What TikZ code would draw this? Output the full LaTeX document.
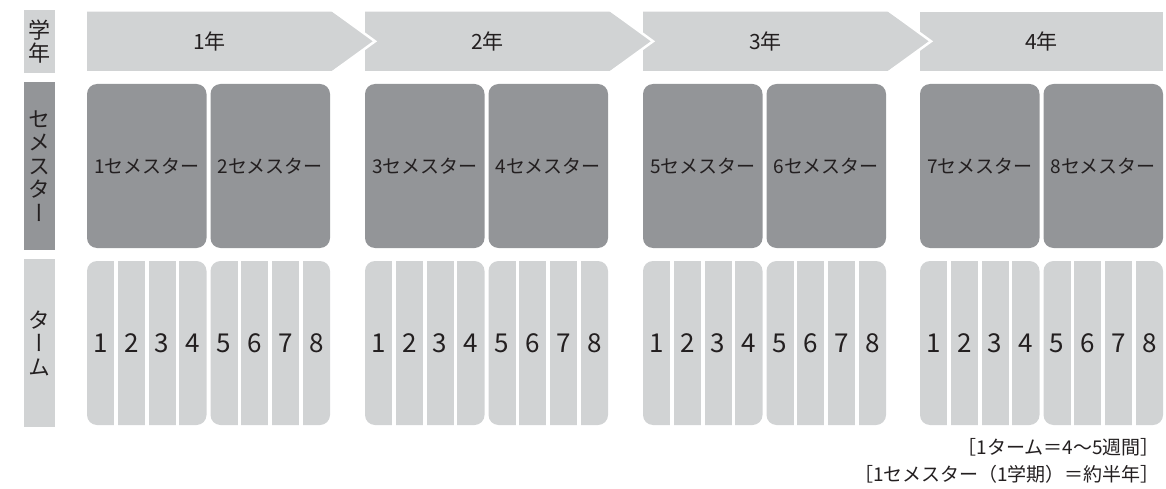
\documentclass[tikz,border=0pt]{standalone}
\usepackage{fontspec}
\setmainfont{Noto Sans CJK JP}
\newfontfamily\vertjp[RawFeature=+vert]{Noto Sans CJK JP}
\usetikzlibrary{positioning}
\definecolor{termgray}{HTML}{D1D3D4}
\definecolor{semgray}{HTML}{939598}
\definecolor{inkdark}{HTML}{231F20}
\newcommand{\jpsize}[1]{\fontsize{#1}{#1}\selectfont}

\begin{document}
\begin{tikzpicture}[
  x=1pt, y=-1pt,
  every node/.style={text=inkdark, inner sep=0pt},
  rowlabel/.style={minimum width=31pt, align=center, font=\vertjp\fontsize{22}{23.5}\selectfont},
  semester/.style={fill=semgray, rounded corners=10pt, minimum width=119.5pt, minimum height=164pt, font=\jpsize{19}},
  yearlabel/.style={font=\jpsize{21}},
  termnum/.style={font=\jpsize{26}},
]
\useasboundingbox (0,0) rectangle (1166,489);

% Row labels — left column
\node[rowlabel, fill=termgray, minimum height=63pt] (lblyear) at (39.5, 41.5) {学\\年};
\node[rowlabel, fill=semgray, minimum height=168pt] (lblsem) at (39.5, 166) {セ\\メ\\ス\\タ\\ー};
\node[rowlabel, fill=termgray, minimum height=168pt] (lblterm) at (39.5, 343) {タ\\ー\\ム};

% Year arrows — drawn last to first so each tip lies over the next one
\fill[termgray] (920, 11.7) rectangle (1163, 71);
\foreach \s in {643, 365, 87} {
  \fill[termgray] (\s, 11.7) -- (\s+245, 11.7) -- (\s+288, 41.3) -- (\s+245, 71) -- (\s, 71) -- cycle;
  \draw[white, line width=2.5pt, line join=miter] (\s+245, 10) -- (\s+288, 41.3) -- (\s+245, 72.5);
}
\node[yearlabel] (year1) at (209.5, 41.5) {1年};
\node[yearlabel] (year2) at (487.5, 41.5) {2年};
\node[yearlabel] (year3) at (765.5, 41.5) {3年};
\node[yearlabel] (year4) at (1041.5, 41.5) {4年};

% Semesters — two boxes per year
\node[semester] (sem1) at (146.75, 166) {1セメスター};
\node[semester] (sem2) at (270.25, 166) {2セメスター};
\node[semester] (sem3) at (424.75, 166) {3セメスター};
\node[semester] (sem4) at (548.25, 166) {4セメスター};
\node[semester] (sem5) at (702.75, 166) {5セメスター};
\node[semester] (sem6) at (826.25, 166) {6セメスター};
\node[semester] (sem7) at (979.75, 166) {7セメスター};
\node[semester] (sem8) at (1103.25, 166) {8セメスター};

% Terms — rounded block per semester, cut into four strips by white gaps
\foreach \s [count=\y] in {87, 365, 643, 920} {
  \foreach \h in {0, 123.5} {
    \fill[termgray, rounded corners=10pt] (\s+\h, 261) rectangle (\s+\h+119.5, 425);
    \foreach \k in {1, 2, 3}
      \draw[white, line width=3.6pt] (\s+\h+\k*30.775-1.8, 259) -- (\s+\h+\k*30.775-1.8, 427);
  }
  \foreach \t in {1, ..., 4}
    \node[termnum] (term\y-\t) at (\s+13.6+\t*30.775-30.775, 343) {\t};
  \foreach \t in {5, ..., 8}
    \node[termnum] (term\y-\t) at (\s+123.5+13.6+\t*30.775-5*30.775, 343) {\t};
}

% Notes — bottom right
\node[anchor=east, font=\jpsize{19}] (noteterm) at (1160, 447) {［1ターム＝4〜5週間］};
\node[anchor=east, font=\jpsize{19}] (notesem) at (1160, 474) {［1セメスター（1学期）＝約半年］};

\end{tikzpicture}
\end{document}
